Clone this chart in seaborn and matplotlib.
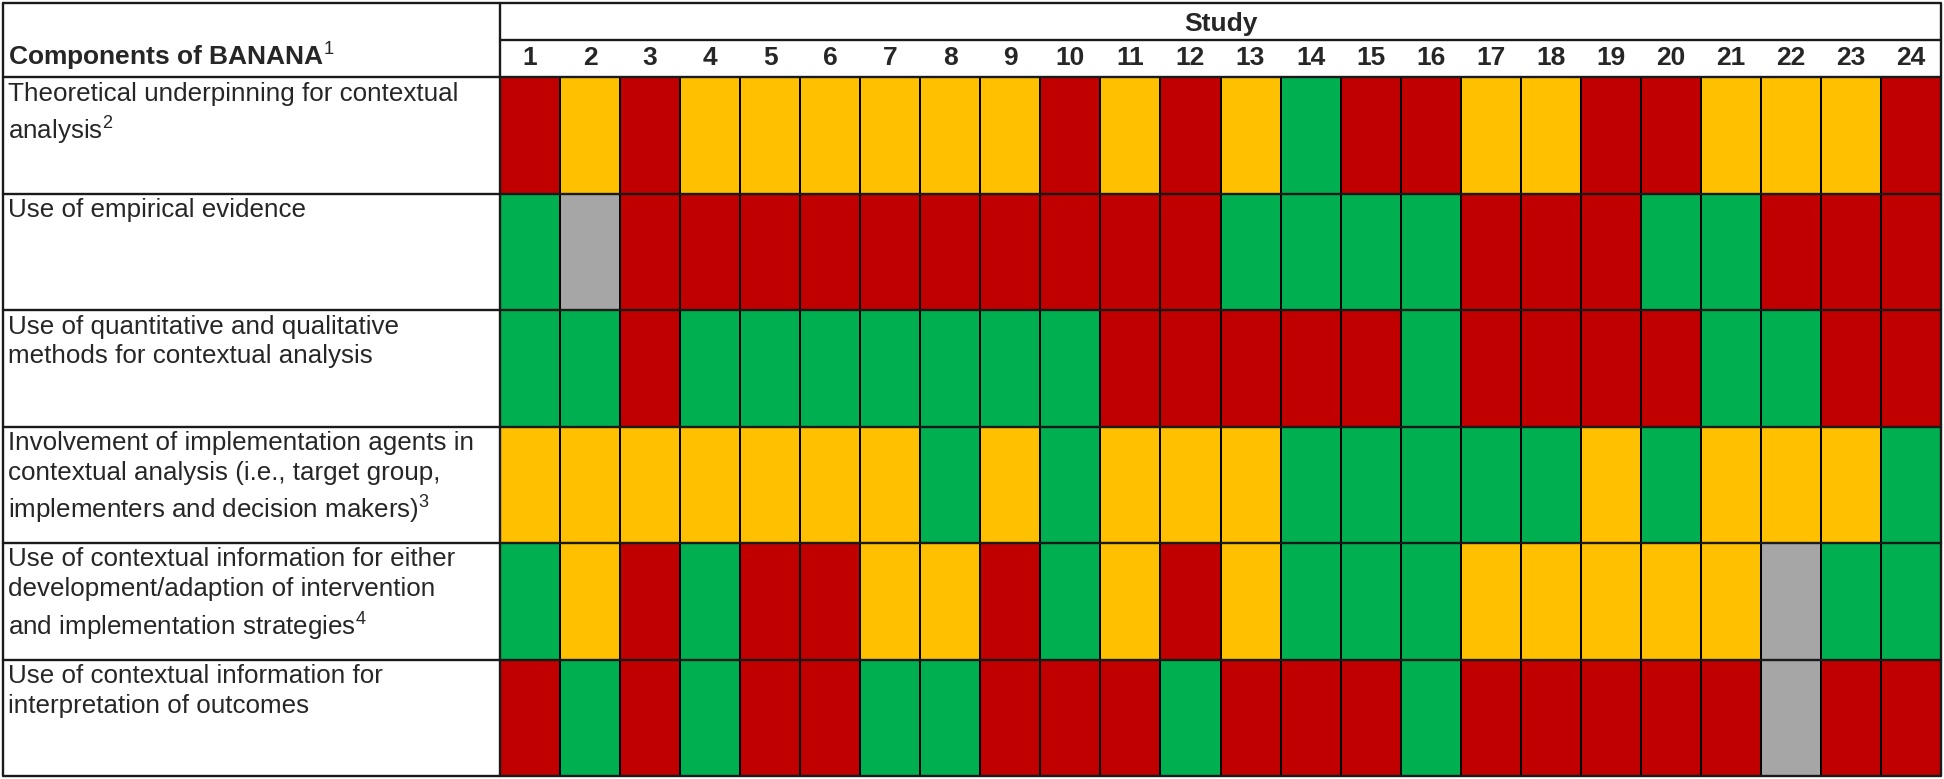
import numpy as np
import pandas as pd
import seaborn as sns
import matplotlib
matplotlib.use("Agg")
import matplotlib.pyplot as plt
from matplotlib.colors import ListedColormap

# ---------------- data ----------------
studies = [str(i) for i in range(1, 25)]
header_left = "Components of BANANA$^{1}$"
header_top = "Study"
components = [
    "Theoretical underpinning for contextual\nanalysis$^{2}$",
    "Use of empirical evidence",
    "Use of quantitative and qualitative\nmethods for contextual analysis",
    "Involvement of implementation agents in\ncontextual analysis (i.e., target group,\nimplementers and decision makers)$^{3}$",
    "Use of contextual information for either\ndevelopment/adaption of intervention\nand implementation strategies$^{4}$",
    "Use of contextual information for\ninterpretation of outcomes",
]
# R = red, Y = yellow, G = green, N = not applicable (grey)
theory         = ["R","Y","R","Y","Y","Y","Y","Y","Y","R","Y","R","Y","G","R","R","Y","Y","R","R","Y","Y","Y","R"]
empirical      = ["G","N","R","R","R","R","R","R","R","R","R","R","G","G","G","G","R","R","R","G","G","R","R","R"]
methods        = ["G","G","R","G","G","G","G","G","G","G","R","R","R","R","R","G","R","R","R","R","G","G","R","R"]
involvement    = ["Y","Y","Y","Y","Y","Y","Y","G","Y","G","Y","Y","Y","G","G","G","G","G","Y","G","Y","Y","Y","G"]
development    = ["G","Y","R","G","R","R","Y","Y","R","G","Y","R","Y","G","G","G","Y","Y","Y","Y","Y","N","G","G"]
interpretation = ["R","G","R","G","R","R","G","G","R","R","R","G","R","R","R","G","R","R","R","R","R","N","R","R"]

ratings = [theory, empirical, methods, involvement, development, interpretation]
code_order = ["R", "Y", "G", "N"]
palette = ["#C00000", "#FFC000", "#00B050", "#A6A6A6"]

# ---------------- figure ----------------
sns.set_style("white")
plt.rcParams["font.family"] = ["Liberation Sans", "DejaVu Sans"]
plt.rcParams["mathtext.fontset"] = "custom"
plt.rcParams["mathtext.rm"] = "Liberation Sans"
plt.rcParams["mathtext.bf"] = "Liberation Sans:bold"

W, H = 1944, 779
fig = plt.figure(figsize=(W / 100, H / 100), dpi=100)

X0, X1 = 3, 1941
XL = 500
Y0, YS, YH, Y1 = 3, 40, 77, 776

codes = {c: i for i, c in enumerate(code_order)}
df = pd.DataFrame([[codes[v] for v in row] for row in ratings],
                  index=range(len(components)), columns=studies)

ax = fig.add_axes([XL / W, 1 - Y1 / H, (X1 - XL) / W, (Y1 - YH) / H])
sns.heatmap(df, ax=ax, cmap=ListedColormap(palette), vmin=-0.5, vmax=3.5,
            cbar=False, linewidths=1.3, linecolor="black",
            xticklabels=studies, yticklabels=False)
ax.xaxis.tick_top()
ax.tick_params(axis="x", length=0, pad=8.5)
for lbl in ax.get_xticklabels():
    lbl.set_fontweight("bold")
    lbl.set_fontsize(19)
    lbl.set_rotation(0)
    lbl.set_verticalalignment("baseline")
ax.set_xlabel("")
ax.set_ylabel("")
for s in ax.spines.values():
    s.set_visible(False)

# overlay for table frame and text
ov = fig.add_axes([0, 0, 1, 1])
ov.set_xlim(0, W)
ov.set_ylim(H, 0)
ov.axis("off")
ov.patch.set_alpha(0)
ov.set_zorder(3)

lw = 1.7
col = "#1a1a1a"
ov.plot([X0, X1, X1, X0, X0], [Y0, Y0, Y1, Y1, Y0], color=col, lw=lw)
ov.plot([XL, XL], [Y0, Y1], color=col, lw=lw)
ov.plot([XL, X1], [YS, YS], color=col, lw=lw)
nrows = len(components)
rh = (Y1 - YH) / nrows
for k in range(nrows):
    y = YH + k * rh
    ov.plot([X0, X1], [y, y], color=col, lw=lw)

ov.text((XL + X1) / 2, 31, header_top, ha="center", va="baseline",
        fontsize=19, fontweight="bold")
ov.text(8, 65, header_left, ha="left", va="baseline",
        fontsize=19, fontweight="bold")

for k, lab in enumerate(components):
    ov.text(8, YH + k * rh + 4.5, lab, ha="left", va="top",
            fontsize=18.7, linespacing=1.3)

fig.savefig("out.png", dpi=100)
